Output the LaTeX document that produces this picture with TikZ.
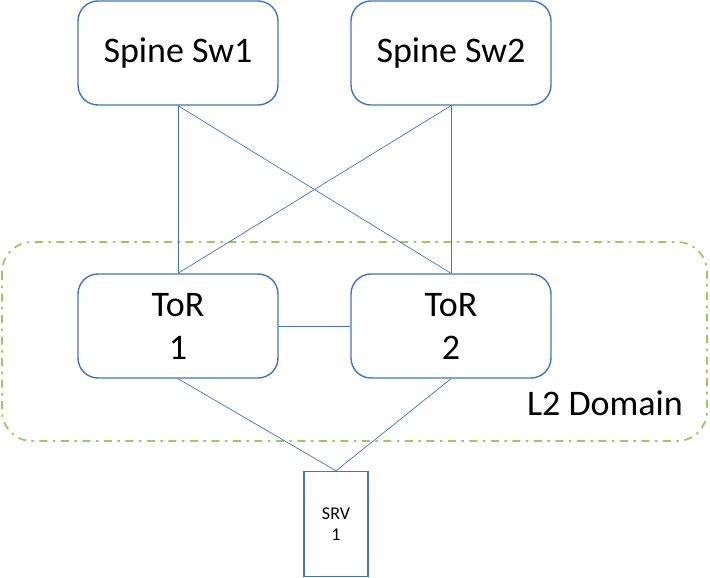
\documentclass[tikz,border=0pt]{standalone}
\usepackage{fontspec}
\setmainfont{Carlito}
\definecolor{boxblue}{HTML}{4472C4}
\definecolor{l2green}{HTML}{9DC85E}

\begin{document}
\begin{tikzpicture}[x=1pt, y=1pt, node distance=273pt,
    sw/.style = {draw=boxblue, line width=1.4pt, rounded corners=20pt,
        minimum width=200pt, minimum height=104pt, align=center,
        font=\fontsize{36}{43}\selectfont},
    srvbox/.style = {draw=boxblue, line width=1.4pt, minimum width=64pt,
        minimum height=105pt, align=center, font=\fontsize{18}{21}\selectfont},
    link/.style = {draw=boxblue, line width=0.7pt},
    l2dom/.style = {draw=l2green, line width=1.8pt, rounded corners=30pt,
        dash pattern=on 8pt off 5.5pt on 2.5pt off 5.5pt}]
    \useasboundingbox (0,0) rectangle (710,-578);

    \draw[l2dom] (2,-242) rectangle (707,-441);
    \node (l2) at (605,-403) [font=\fontsize{36}{43}\selectfont] {L2 Domain};

    \node[sw] (s1) at (178,-53) {Spine Sw1};
    \node[sw] (s2) [right of=s1] {Spine Sw2};
    \node[sw] (t1) [below of=s1] {ToR\\1};
    \node[sw] (t2) [right of=t1] {ToR\\2};
    \node[srvbox] (srv) at (336,-524) {SRV\\1};

    \draw[link] (s1.south) -- (t1.north);
    \draw[link] (s1.south) -- (t2.north);
    \draw[link] (s2.south) -- (t1.north);
    \draw[link] (s2.south) -- (t2.north);
    \draw[link] (t1) -- (t2);
    \draw[link] (t1.south) -- (srv.north);
    \draw[link] (t2.south) -- (srv.north);
\end{tikzpicture}
\end{document}
